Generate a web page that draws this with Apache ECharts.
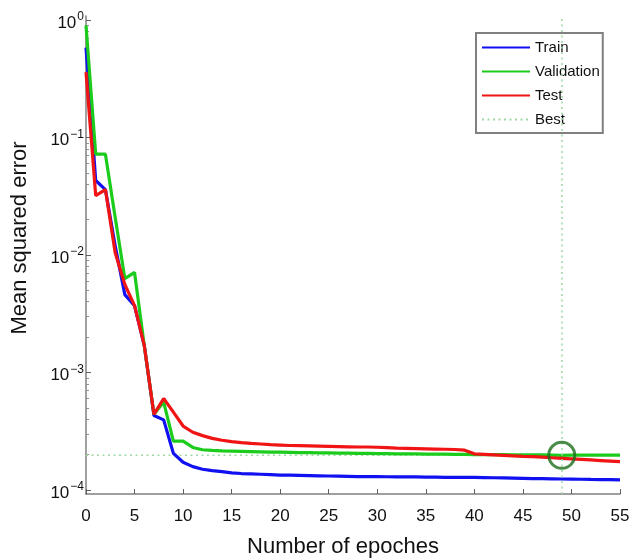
<!DOCTYPE html>
<html>
<head>
<meta charset="utf-8">
<script src="https://cdn.jsdelivr.net/npm/echarts@6/dist/echarts.min.js"></script>
<style>
  html, body { margin: 0; padding: 0; background: #fff; }
  #chart { width: 630px; height: 559px; }
</style>
</head>
<body>
<div id="chart"></div>
<script>
// epochs 0..55
const epochs = [];
for (let i = 0; i <= 55; i++) epochs.push(i);

const train = [
  0.58, 0.043, 0.036, 0.012, 0.0046, 0.0037, 0.0017, 4.3e-4, 3.95e-4, 2.05e-4,
  1.72e-4, 1.58e-4, 1.50e-4, 1.46e-4, 1.43e-4, 1.40e-4, 1.38e-4, 1.37e-4, 1.36e-4, 1.35e-4,
  1.34e-4, 1.335e-4, 1.33e-4, 1.325e-4, 1.32e-4, 1.315e-4, 1.31e-4, 1.305e-4, 1.30e-4, 1.30e-4,
  1.30e-4, 1.295e-4, 1.29e-4, 1.29e-4, 1.29e-4, 1.285e-4, 1.285e-4, 1.28e-4, 1.28e-4, 1.28e-4,
  1.28e-4, 1.275e-4, 1.27e-4, 1.265e-4, 1.26e-4, 1.255e-4, 1.25e-4, 1.247e-4, 1.244e-4, 1.24e-4,
  1.237e-4, 1.234e-4, 1.23e-4, 1.227e-4, 1.224e-4, 1.22e-4
];
const validation = [
  0.9, 0.072, 0.072, 0.021, 0.0063, 0.0071, 0.0017, 4.4e-4, 5.6e-4, 2.6e-4,
  2.6e-4, 2.3e-4, 2.2e-4, 2.17e-4, 2.15e-4, 2.14e-4, 2.13e-4, 2.12e-4, 2.11e-4, 2.10e-4,
  2.10e-4, 2.09e-4, 2.08e-4, 2.08e-4, 2.07e-4, 2.07e-4, 2.06e-4, 2.06e-4, 2.05e-4, 2.05e-4,
  2.04e-4, 2.04e-4, 2.03e-4, 2.03e-4, 2.03e-4, 2.02e-4, 2.02e-4, 2.02e-4, 2.01e-4, 2.01e-4,
  2.00e-4, 2.00e-4, 2.00e-4, 2.00e-4, 1.99e-4, 1.99e-4, 1.99e-4, 1.99e-4, 1.98e-4, 1.97e-4,
  1.98e-4, 1.98e-4, 1.98e-4, 1.98e-4, 1.98e-4, 1.98e-4
];
const test = [
  0.36, 0.032, 0.036, 0.0105, 0.0056, 0.0037, 0.0017, 4.4e-4, 6.0e-4, 4.6e-4,
  3.5e-4, 3.1e-4, 2.9e-4, 2.75e-4, 2.65e-4, 2.58e-4, 2.53e-4, 2.49e-4, 2.46e-4, 2.43e-4,
  2.41e-4, 2.39e-4, 2.38e-4, 2.37e-4, 2.36e-4, 2.35e-4, 2.34e-4, 2.33e-4, 2.32e-4, 2.32e-4,
  2.31e-4, 2.29e-4, 2.27e-4, 2.26e-4, 2.25e-4, 2.24e-4, 2.23e-4, 2.22e-4, 2.21e-4, 2.18e-4,
  2.03e-4, 2.01e-4, 1.99e-4, 1.97e-4, 1.95e-4, 1.93e-4, 1.92e-4, 1.90e-4, 1.88e-4, 1.86e-4,
  1.84e-4, 1.82e-4, 1.80e-4, 1.78e-4, 1.76e-4, 1.74e-4
];
const bestEpoch = 49;
const bestValue = 1.97e-4;

const majorTicks = [1e-4, 1e-3, 1e-2, 1e-1, 1];
const minorTicks = [];
[1e-4, 1e-3, 1e-2, 1e-1].forEach(function (d) {
  for (let k = 2; k <= 9; k++) minorTicks.push(d * k);
});

const FONT = '"Liberation Sans", Arial, Helvetica, sans-serif';

function pairs(vals) {
  return epochs.map(function (e, i) { return [e, vals[i]]; });
}

const chart = echarts.init(document.getElementById('chart'));
chart.setOption({
  animation: false,
  textStyle: { fontFamily: FONT },
  grid: { left: 86, right: 10, top: 16, bottom: 65, outerBoundsMode: 'none' },
  legend: {
    data: ['Train', 'Validation', 'Test', 'Best'],
    orient: 'vertical',
    left: 476,
    top: 33,
    padding: [7, 3, 6, 5],
    itemWidth: 48,
    itemHeight: 14,
    itemGap: 9,
    itemStyle: { opacity: 0 },
    backgroundColor: '#fff',
    borderColor: '#808080',
    borderWidth: 2,
    textStyle: { fontSize: 15, color: '#111', fontFamily: FONT }
  },
  xAxis: {
    type: 'value',
    min: 0,
    max: 55,
    interval: 5,
    name: 'Number of epoches',
    nameLocation: 'middle',
    nameGap: 42,
    nameTextStyle: { fontSize: 22, color: '#111', padding: [0, 20, 0, 0] },
    splitLine: { show: false },
    axisLine: { lineStyle: { color: '#808080', width: 1.5 } },
    axisTick: { inside: true, length: 5, lineStyle: { color: '#606060' } },
    axisLabel: { fontSize: 17, color: '#111', margin: 14 }
  },
  yAxis: [
    {
      type: 'log',
      logBase: 10,
      min: 9.24e-5,
      max: 1.08,
      name: 'Mean squared error',
      nameLocation: 'middle',
      nameGap: 55,
      nameRotate: 90,
      nameTextStyle: { fontSize: 22, color: '#111', padding: [0, 0, 0, 34] },
      splitLine: { show: false },
      axisLine: { show: true, lineStyle: { color: '#808080', width: 1.5 } },
      axisTick: { inside: true, length: 5, customValues: majorTicks, lineStyle: { color: '#606060' } },
      axisLabel: {
        customValues: majorTicks,
        margin: 2,
        formatter: function (v) {
          const e = Math.round(Math.log10(v));
          const s = e < 0 ? '\u2212' + (-e) : String(e);
          return '{b|10}{s|' + s + '}';
        },
        rich: {
          b: { fontSize: 17, color: '#111', fontFamily: FONT, padding: [6, 0, 0, 0] },
          s: { fontSize: 12, color: '#111', fontFamily: FONT, padding: [0, 0, 6, 1] }
        }
      }
    },
    {
      type: 'log',
      logBase: 10,
      min: 9.24e-5,
      max: 1.08,
      position: 'left',
      splitLine: { show: false },
      axisLine: { show: false },
      axisLabel: { show: false },
      axisTick: { inside: true, length: 3, customValues: minorTicks, lineStyle: { color: '#909090' } }
    }
  ],
  series: [
    {
      name: 'Best',
      type: 'line',
      data: [[0, bestValue], [bestEpoch, bestValue]],
      symbol: 'none',
      color: '#9fd8a4',
      lineStyle: { color: '#9fd8a4', width: 1.5, type: [2, 3.5] },
      markLine: {
        silent: true,
        symbol: 'none',
        label: { show: false },
        lineStyle: { color: '#9fd8a4', width: 1.5, type: [2, 3.5] },
        data: [{ xAxis: bestEpoch }]
      }
    },
    {
      name: 'Train',
      type: 'line',
      data: pairs(train),
      symbol: 'none',
      color: '#1010f0',
      lineStyle: { color: '#1010f0', width: 3.2 }
    },
    {
      name: 'Validation',
      type: 'line',
      data: pairs(validation),
      symbol: 'none',
      color: '#1ccc1c',
      lineStyle: { color: '#1ccc1c', width: 3.2 }
    },
    {
      name: 'Test',
      type: 'line',
      data: pairs(test),
      symbol: 'none',
      color: '#f01414',
      lineStyle: { color: '#f01414', width: 3.2 }
    },
    {
      name: 'BestCircle',
      type: 'scatter',
      data: [[bestEpoch, bestValue]],
      symbol: 'circle',
      symbolSize: 26,
      itemStyle: { color: 'rgba(0,0,0,0)', borderColor: '#1c6e1c', borderWidth: 3 },
      z: 5
    }
  ]
});
</script>
</body>
</html>
